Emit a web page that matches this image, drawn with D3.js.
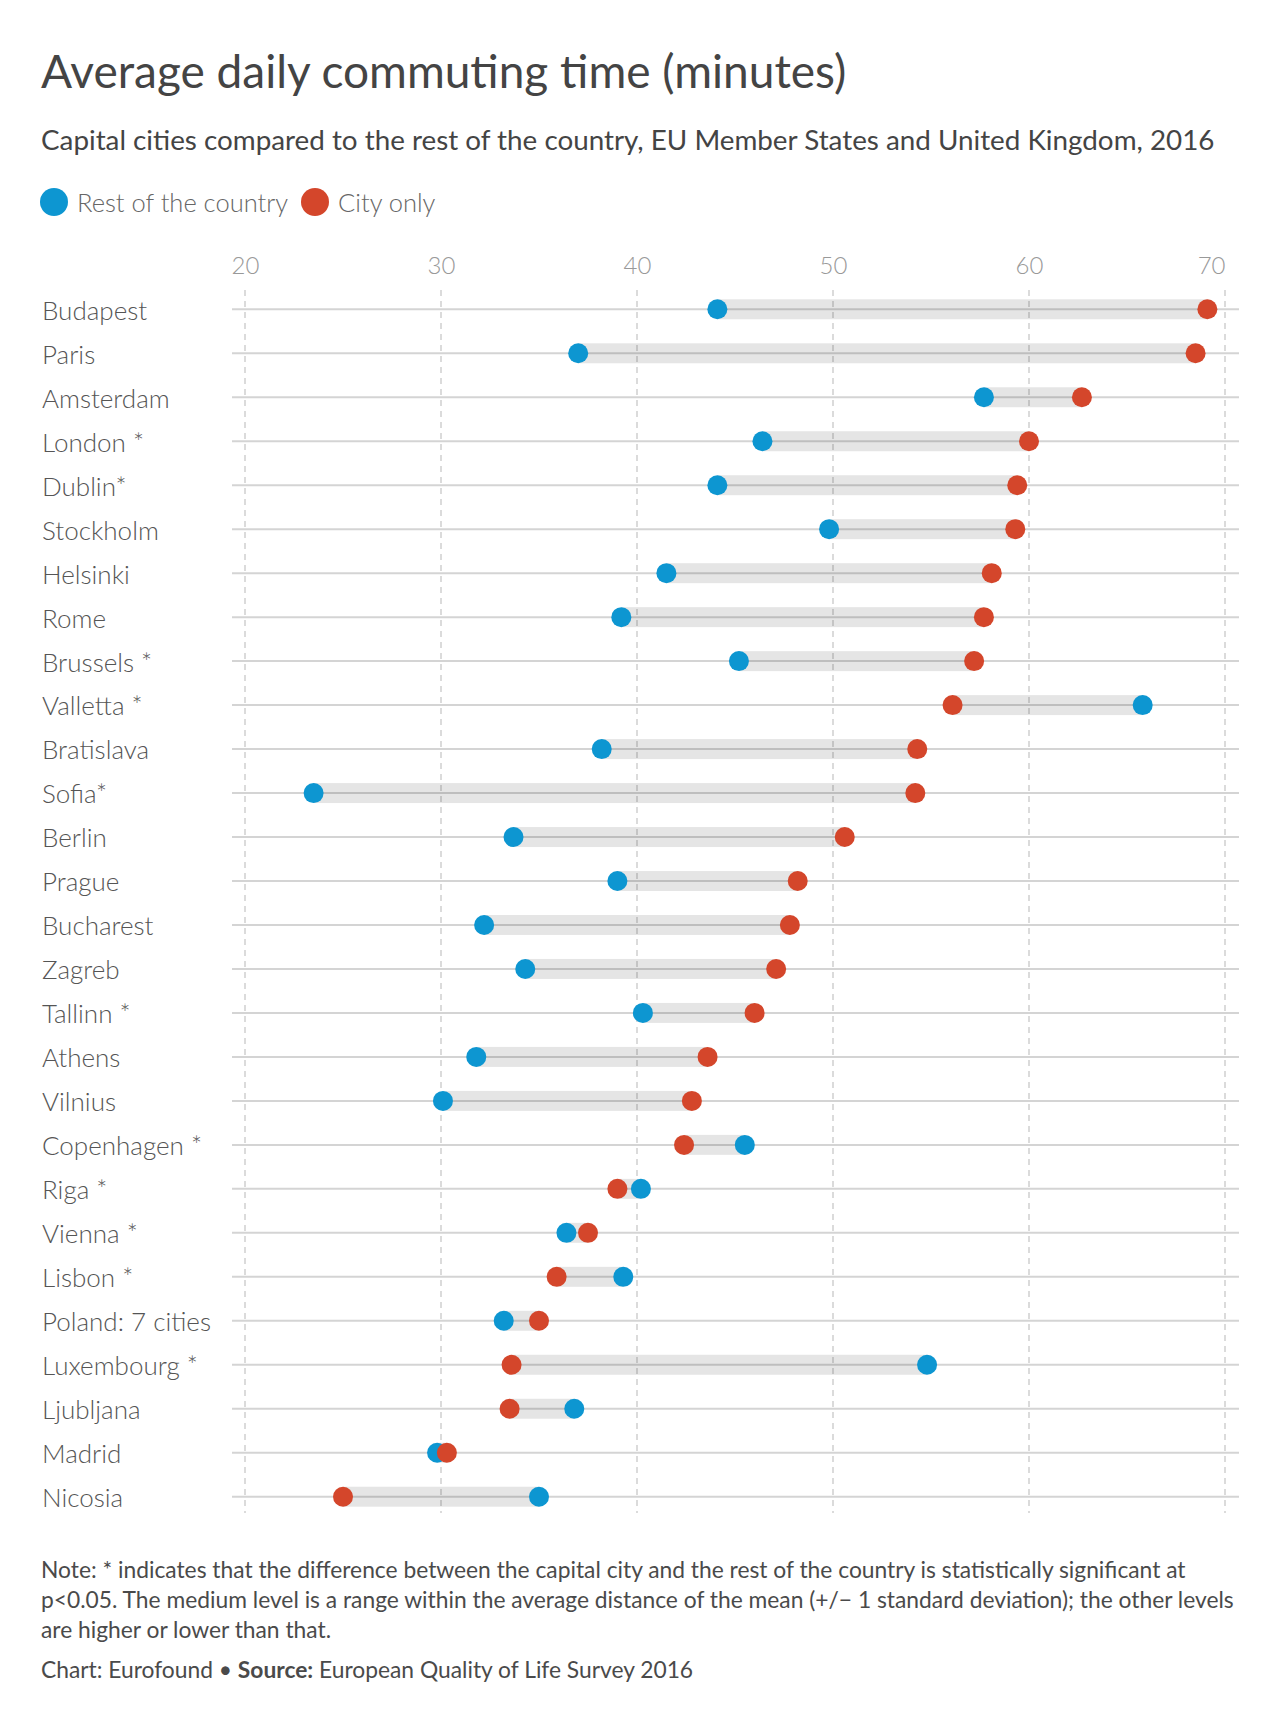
<!DOCTYPE html>
<html>
<head>
<meta charset="utf-8">
<script src="https://cdn.jsdelivr.net/npm/d3@7"></script>
<style>
  body { margin: 0; background: #fff; }
  svg text { font-family: Lato, "Open Sans", sans-serif; }
</style>
</head>
<body>
<script>
// canvas
var width = 1280;
var height = 1724;

// data, top to bottom
var cities = ["Budapest", "Paris", "Amsterdam", "London *", "Dublin*", "Stockholm", "Helsinki",
  "Rome", "Brussels *", "Valletta *", "Bratislava", "Sofia*", "Berlin", "Prague", "Bucharest",
  "Zagreb", "Tallinn *", "Athens", "Vilnius", "Copenhagen *", "Riga *", "Vienna *", "Lisbon *",
  "Poland: 7 cities", "Luxembourg *", "Ljubljana", "Madrid", "Nicosia"];
var restOfCountry = [44.1, 37.0, 57.7, 46.4, 44.1, 49.8, 41.5, 39.2, 45.2, 65.8, 38.2, 23.5, 33.7,
  39.0, 32.2, 34.3, 40.3, 31.8, 30.1, 45.5, 40.2, 36.4, 39.3, 33.2, 54.8, 36.8, 29.8, 35.0];
var cityOnly = [69.1, 68.5, 62.7, 60.0, 59.4, 59.3, 58.1, 57.7, 57.2, 56.1, 54.3, 54.2, 50.6,
  48.2, 47.8, 47.1, 46.0, 43.6, 42.8, 42.4, 39.0, 37.5, 35.9, 35.0, 33.6, 33.5, 30.3, 25.0];
var xTicks = [20, 30, 40, 50, 60, 70];
var seriesNames = ["Rest of the country", "City only"];
var colors = ["#0d96d1", "#d4462b"];

var noteLines = [
  "Note: * indicates that the difference between the capital city and the rest of the country is statistically significant at",
  "p<0.05. The medium level is a range within the average distance of the mean (+/\u2212 1 standard deviation); the other levels",
  "are higher or lower than that."
];

var rows = cities.map(function (c, i) {
  return {city: c, rest: restOfCountry[i], city_only: cityOnly[i]};
});

var svg = d3.select("body")
  .append("svg")
  .attr("width", width)
  .attr("height", height);

// titles
svg.append("text")
  .attr("x", 41).attr("y", 88)
  .attr("fill", "#444")
  .style("font-size", "46px")
  .text("Average daily commuting time (minutes)");

svg.append("text")
  .attr("x", 41).attr("y", 150)
  .attr("fill", "#444")
  .style("font-size", "27.8px")
  .text("Capital cities compared to the rest of the country, EU Member States and United Kingdom, 2016");

// legend
var legend = svg.append("g").attr("transform", "translate(0,202)");
var lx = [54, 315];
seriesNames.forEach(function (name, i) {
  legend.append("circle").attr("cx", lx[i]).attr("cy", 0).attr("r", 14).attr("fill", colors[i]);
  legend.append("text")
    .attr("x", lx[i] + 23).attr("y", 10)
    .attr("fill", "#666")
    .style("font-size", "25.5px")
    .style("font-weight", 300)
    .text(name);
});

// scales
var x = d3.scaleLinear().domain([20, 70]).range([245, 1225]);
var y = d3.scalePoint().domain(cities).range([309.3, 1496.7]);

// vertical dashed grid
svg.append("g").selectAll("line")
  .data(xTicks)
  .enter()
  .append("line")
  .attr("x1", d => x(d)).attr("x2", d => x(d))
  .attr("y1", 290).attr("y2", 1513)
  .attr("stroke", "#cfcfcf")
  .attr("stroke-width", 1.5)
  .attr("stroke-dasharray", "6,5");

// x axis on top
var xAxis = d3.axisTop(x).tickValues(xTicks).tickSize(0).tickPadding(0);
var gx = svg.append("g").attr("transform", "translate(0,274)").call(xAxis);
gx.select(".domain").remove();
gx.selectAll("text")
  .attr("dy", "0em")
  .attr("fill", "#999")
  .attr("text-anchor", (d, i) => i === xTicks.length - 1 ? "end" : "middle")
  .style("font-size", "24px")
  .style("font-weight", 300)
  .style("font-family", "Lato, sans-serif");

// row lines
svg.append("g").selectAll("line")
  .data(rows)
  .enter()
  .append("line")
  .attr("x1", 232).attr("x2", 1239)
  .attr("y1", d => y(d.city)).attr("y2", d => y(d.city))
  .attr("stroke", "#d4d4d4")
  .attr("stroke-width", 2);

// y axis labels
var yAxis = d3.axisLeft(y).tickSize(0);
var gy = svg.append("g").call(yAxis);
gy.select(".domain").remove();
gy.selectAll("text")
  .attr("x", 42)
  .attr("dy", "0.38em")
  .attr("text-anchor", "start")
  .attr("fill", "#555")
  .style("font-size", "26px")
  .style("font-weight", 300)
  .style("font-family", "Lato, sans-serif");

// gap bands
svg.append("g").selectAll("rect")
  .data(rows)
  .enter()
  .append("rect")
  .attr("x", d => x(Math.min(d.rest, d.city_only)))
  .attr("y", d => y(d.city) - 10)
  .attr("width", d => Math.abs(x(d.rest) - x(d.city_only)))
  .attr("height", 20)
  .attr("fill", "rgba(0,0,0,0.1)");

// dots
var dots = svg.append("g");
dots.selectAll(".rest")
  .data(rows)
  .enter()
  .append("circle")
  .attr("class", "rest")
  .attr("cx", d => x(d.rest))
  .attr("cy", d => y(d.city))
  .attr("r", 10)
  .attr("fill", colors[0]);
dots.selectAll(".cityonly")
  .data(rows)
  .enter()
  .append("circle")
  .attr("class", "cityonly")
  .attr("cx", d => x(d.city_only))
  .attr("cy", d => y(d.city))
  .attr("r", 10)
  .attr("fill", colors[1]);

// footer
svg.append("g").selectAll("text")
  .data(noteLines)
  .enter()
  .append("text")
  .attr("x", 41)
  .attr("y", (d, i) => 1578 + i * 30)
  .attr("fill", "#4a4a4a")
  .style("font-size", "22.8px")
  .text(d => d);

var src = svg.append("text")
  .attr("x", 41).attr("y", 1678)
  .attr("fill", "#4a4a4a")
  .style("font-size", "22.8px");
src.append("tspan").text("Chart: Eurofound \u2022 ");
src.append("tspan").style("font-weight", 700).text("Source:");
src.append("tspan").text(" European Quality of Life Survey 2016");
</script>
</body>
</html>
